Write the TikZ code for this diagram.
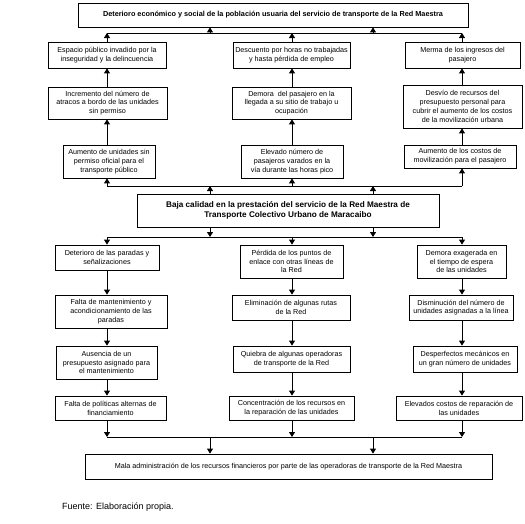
\documentclass[tikz,border=0pt]{standalone}
\usepackage{fontspec}
\setmainfont{Liberation Sans}
\usetikzlibrary{arrows.meta}
\tikzset{
  box/.style={draw=black, line width=0.8pt, inner sep=0pt, align=center,
    font=\fontsize{7.2}{8.8}\selectfont},
  boldbox/.style={box, font=\fontsize{7.3}{9}\selectfont\bfseries},
  bigbox/.style={box, font=\fontsize{8.2}{10}\selectfont\bfseries},
  arr/.style={line width=0.9pt, -{Triangle[width=6pt,length=5pt]}},
  conn/.style={line width=0.9pt},
}
\begin{document}
\begin{tikzpicture}[x=1pt,y=-1pt]
\useasboundingbox (0,0) rectangle (525,523);
% columns and rails
\coordinate (colA) at (107,0);
\coordinate (colB) at (292,0);
\coordinate (colC) at (462,0);
\coordinate (colL) at (210,0);
\coordinate (colR) at (373,0);
\coordinate (h1) at (0,33);
\coordinate (h2) at (0,186);
\coordinate (h3) at (0,237);
\coordinate (h4) at (0,437);

\node[boldbox, minimum width=390, minimum height=24] (top) at (273,15) {Deterioro económico y social de la población usuaria del servicio de transporte de la Red Maestra};

\node[box, minimum width=118, minimum height=26] (a1) at (107,55) {Espacio público invadido por la\\inseguridad y la delincuencia};
\node[box, minimum width=117, minimum height=26] (b1) at (291.5,55) {Descuento por horas no trabajadas\\y hasta pérdida de empleo};
\node[box, minimum width=115, minimum height=26] (c1) at (462.5,55) {Merma de los ingresos del\\pasajero};

\node[box, minimum width=119, minimum height=32] (a2) at (107.5,103) {Incremento del número de\\atracos a bordo de las unidades\\sin permiso};
\node[box, minimum width=119, minimum height=32] (b2) at (291.5,103) {Demora\ \ del pasajero en la\\llegada a su sitio de trabajo u\\ocupación};
\node[box, minimum width=119, minimum height=43] (c2) at (462.5,106.5) {Desvío de recursos del\\presupuesto personal para\\cubrir el aumento de los costos\\de la movilización urbana};

\node[box, minimum width=92, minimum height=33] (a3) at (109,161.5) {Aumento de unidades sin\\permiso oficial para el\\transporte público};
\node[box, minimum width=102, minimum height=33] (b3) at (292,161.5) {Elevado número de\\pasajeros varados en la\\vía durante las horas pico};
\node[box, minimum width=112, minimum height=23] (c3) at (460,156.5) {Aumento de los costos de\\movilización para el pasajero};

\node[bigbox, minimum width=302, minimum height=33] (mid) at (288,210.5) {Baja calidad en la prestación del servicio de la Red Maestra de\\Transporte Colectivo Urbano de Maracaibo};

\node[box, minimum width=104, minimum height=25] (d1) at (107,257.5) {Deterioro de las paradas y\\señalizaciones};
\node[box, minimum width=103, minimum height=33] (e1) at (291.5,261.5) {Pérdida de los puntos de\\enlace con otras líneas de\\la Red};
\node[box, minimum width=89, minimum height=33] (f1) at (461.5,261.5) {Demora exagerada en\\el tiempo de espera\\de las unidades};

\node[box, minimum width=112, minimum height=33] (d2) at (111,311.5) {Falta de mantenimiento y\\acondicionamiento de las\\paradas};
\node[box, minimum width=118, minimum height=25] (e2) at (291,307.5) {Eliminación de algunas rutas\\de la Red};
\node[box, minimum width=104, minimum height=25] (f2) at (461,307.5) {Disminución del número de\\unidades asignadas a la línea};

\node[box, minimum width=101, minimum height=33] (d3) at (106.5,362.5) {Ausencia de un\\presupuesto asignado para\\el mantenimiento};
\node[box, minimum width=117, minimum height=26] (e3) at (291.5,359) {Quiebra de algunas operadoras\\de transporte de la Red};
\node[box, minimum width=104, minimum height=26] (f3) at (465,359) {Desperfectos mecánicos en\\un gran número de unidades};

\node[box, minimum width=111, minimum height=24] (d4) at (110.5,408) {Falta de políticas alternas de\\financiamiento};
\node[box, minimum width=125, minimum height=24] (e4) at (291.5,408) {Concentración de los recursos en\\la reparación de las unidades};
\node[box, minimum width=126, minimum height=24] (f4) at (459,408) {Elevados costos de reparación de\\las unidades};

\node[box, minimum width=407, minimum height=25] (bot) at (288.5,466.5) {Mala administración de los recursos financieros por parte de las operadoras de transporte de la Red Maestra};

\node[anchor=west, inner sep=0pt, font=\fontsize{9}{11}\selectfont] (src) at (62,507) {Fuente: Elaboración propia.};

% top half
\foreach \n/\c in {a/colA,b/colB,c/colC}{
  \draw[arr] (\n1.north -| \c) -- (\c |- h1);
  \draw[arr] (\n2.north -| \c) -- (\n1.south -| \c);
  \draw[arr] (\n3.north -| \c) -- (\n2.south -| \c);
  \draw[arr] (\c |- h2) -- (\n3.south -| \c);
}
\draw[conn] (colA |- h1) -- (colC |- h1);
\draw[conn] (colA |- h2) -- (colC |- h2);
\foreach \c in {colL,colR}{
  \draw[arr] (\c |- h1) -- (top.south -| \c);
  \draw[arr] (mid.north -| \c) -- (\c |- h2);
  \draw[arr] (mid.south -| \c) -- (\c |- h3);
  \draw[arr] (\c |- h4) -- (bot.north -| \c);
}
% bottom half
\draw[conn] (colA |- h3) -- (colC |- h3);
\draw[conn] (colA |- h4) -- (colC |- h4);
\foreach \n/\c in {d/colA,e/colB,f/colC}{
  \draw[arr] (\c |- h3) -- (\n1.north -| \c);
  \draw[arr] (\n1.south -| \c) -- (\n2.north -| \c);
  \draw[arr] (\n2.south -| \c) -- (\n3.north -| \c);
  \draw[arr] (\n3.south -| \c) -- (\n4.north -| \c);
  \draw[arr] (\n4.south -| \c) -- (\c |- h4);
}
\end{tikzpicture}
\end{document}
